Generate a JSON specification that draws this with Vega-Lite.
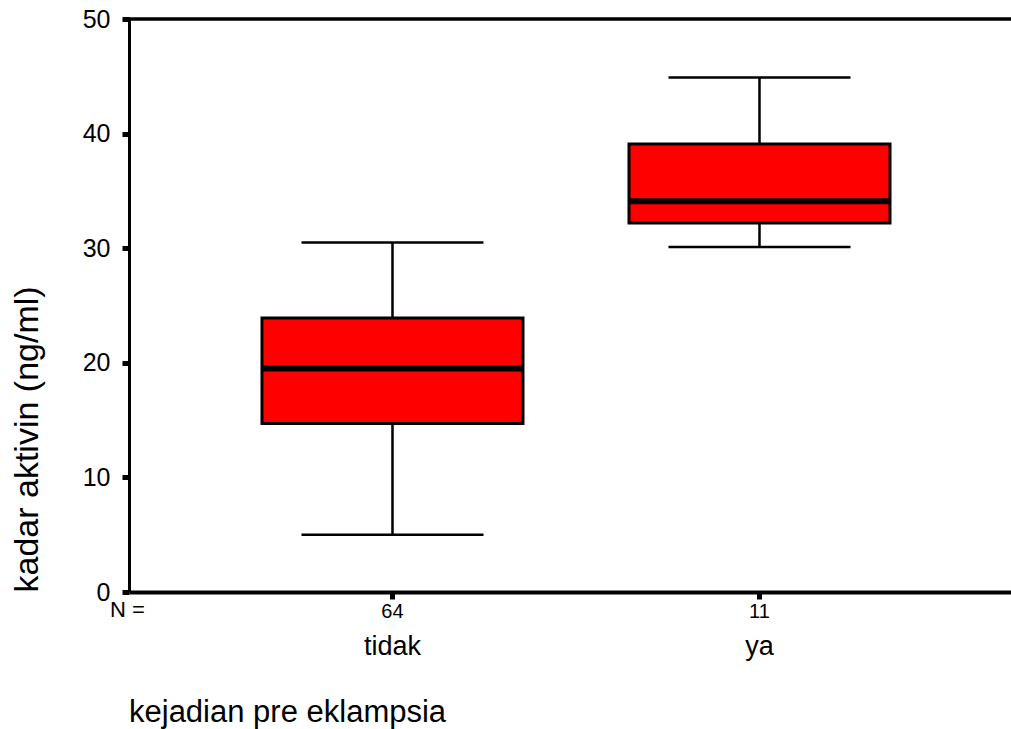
{
  "$schema": "https://vega.github.io/schema/vega-lite/v6.json",
  "autosize": {"type": "none"},
  "width": 882,
  "height": 573,
  "padding": {"left": 129, "top": 19, "right": 0, "bottom": 137},
  "background": "white",
  "config": {
    "view": {"stroke": null},
    "font": "Liberation Sans"
  },
  "title": {
    "text": "kejadian pre eklampsia",
    "orient": "bottom",
    "anchor": "start",
    "frame": "group",
    "baseline": "top",
    "fontSize": 31,
    "fontWeight": "normal",
    "font": "Liberation Sans",
    "color": "black",
    "offset": 39
  },
  "data": {
    "values": [
      {"group": "tidak", "n": 64, "lower": 5.0, "q1": 14.7, "median": 19.5, "q3": 23.9, "upper": 30.5},
      {"group": "ya", "n": 11, "lower": 30.1, "q1": 32.2, "median": 34.1, "q3": 39.1, "upper": 44.9}
    ]
  },
  "resolve": {"axis": {"x": "independent"}},
  "layer": [
    {
      "mark": {"type": "rule", "stroke": "black", "strokeWidth": 2.5},
      "encoding": {
        "x": {
          "field": "group", "type": "nominal",
          "scale": {"paddingInner": 0, "paddingOuter": 0.2016, "align": 0.5405, "round": false},
          "axis": {
            "orient": "bottom",
            "labelExpr": "datum.value == 'tidak' ? '64' : '11'",
            "labelAngle": 0,
            "labelFontSize": 20,
            "labelColor": "black",
            "labelPadding": 2,
            "tickSize": 7,
            "tickWidth": 5,
            "tickColor": "black",
            "domainColor": "black",
            "domainWidth": 4,
            "title": "N =",
            "titleFontSize": 22,
            "titleFontWeight": "normal",
            "titleColor": "black",
            "titleX": -2,
            "titleY": 17,
            "titleAlign": "center",
            "titleBaseline": "middle"
          }
        },
        "y": {
          "field": "lower", "type": "quantitative",
          "scale": {"domain": [0, 50], "nice": false, "zero": true},
          "axis": {
            "values": [0, 10, 20, 30, 40, 50],
            "grid": false,
            "tickSize": 7,
            "tickWidth": 5,
            "tickColor": "black",
            "domainColor": "black",
            "domainWidth": 3,
            "labelFontSize": 25,
            "labelColor": "black",
            "labelPadding": 12,
            "title": "kadar aktivin (ng/ml)",
            "titleFontSize": 34,
            "titleFontWeight": "normal",
            "titleColor": "black",
            "titleAngle": -90,
            "titleX": -102,
            "titleY": 573,
            "titleAlign": "left",
            "titleBaseline": "middle"
          }
        },
        "y2": {"field": "upper"}
      }
    },
    {
      "mark": {"type": "tick", "color": "black", "size": 182, "thickness": 2.5, "opacity": 1},
      "encoding": {
        "x": {
          "field": "group", "type": "nominal",
          "axis": {
            "orient": "bottom",
            "ticks": false,
            "domain": false,
            "labelAngle": 0,
            "labelFontSize": 27,
            "labelColor": "black",
            "labelPadding": 41,
            "labelBaseline": "top",
            "title": null
          }
        },
        "y": {"field": "lower", "type": "quantitative"}
      }
    },
    {
      "mark": {"type": "tick", "color": "black", "size": 182, "thickness": 2.5, "opacity": 1},
      "encoding": {
        "x": {"field": "group", "type": "nominal", "axis": null},
        "y": {"field": "upper", "type": "quantitative"}
      }
    },
    {
      "mark": {"type": "bar", "fill": "#FF0000", "stroke": "black", "strokeWidth": 3, "size": 261},
      "encoding": {
        "x": {"field": "group", "type": "nominal", "axis": null},
        "y": {"field": "q1", "type": "quantitative"},
        "y2": {"field": "q3"}
      }
    },
    {
      "mark": {"type": "tick", "color": "black", "size": 261, "thickness": 6, "opacity": 1},
      "encoding": {
        "x": {"field": "group", "type": "nominal", "axis": null},
        "y": {"field": "median", "type": "quantitative"}
      }
    },
    {
      "mark": {"type": "rule", "stroke": "black", "strokeWidth": 3},
      "encoding": {
        "y": {"datum": 50, "type": "quantitative"}
      }
    }
  ]
}
